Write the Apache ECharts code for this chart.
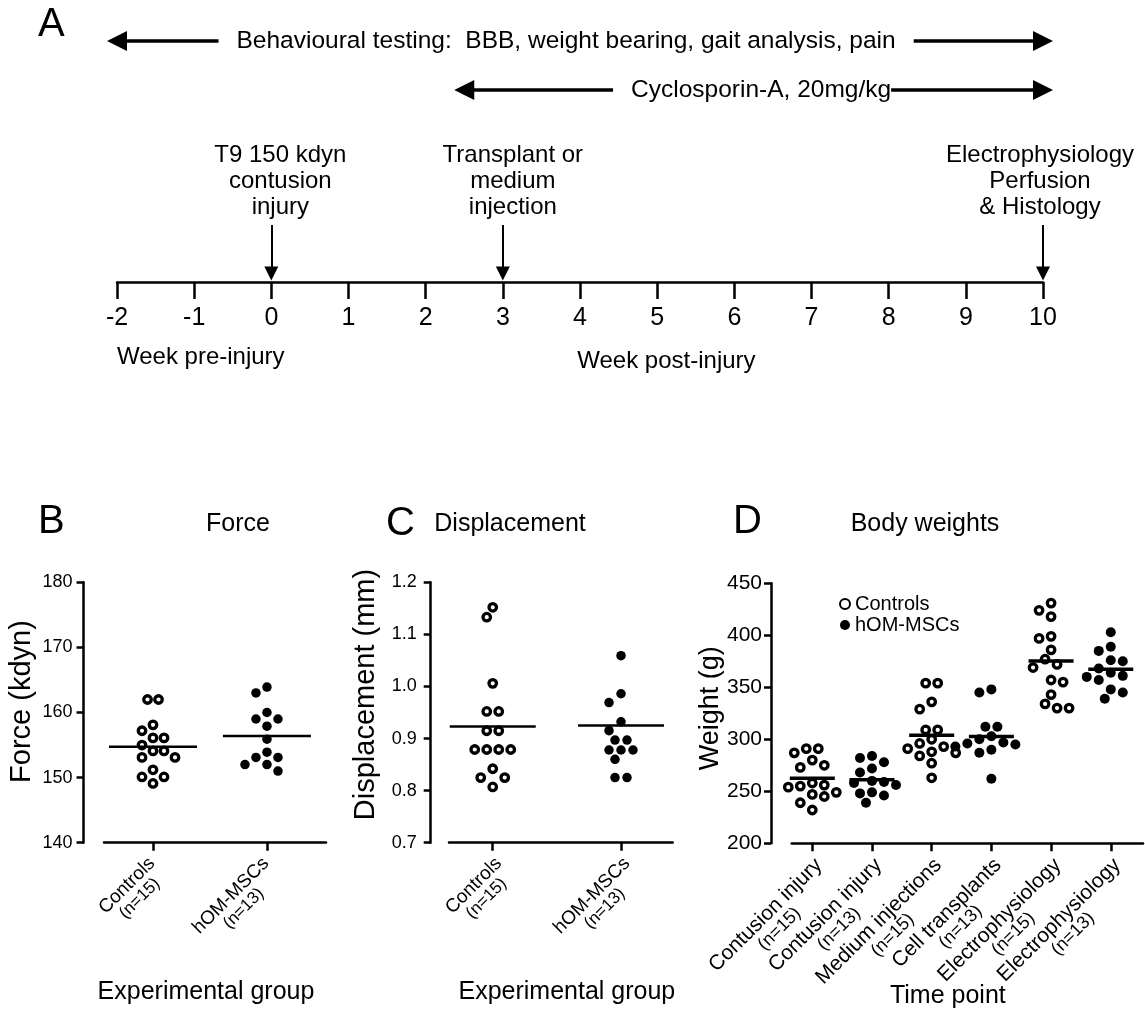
<!DOCTYPE html>
<html><head><meta charset="utf-8">
<script src="https://cdn.jsdelivr.net/npm/echarts@6/dist/echarts.min.js"></script>
<style>html,body{margin:0;padding:0;background:#fff}#c{width:1145px;height:1010px}</style>
</head><body><div id="c"></div>
<script>
// ================= DATA =================
// Panel A: timeline (weeks)
const weekTicks = [-2, -1, 0, 1, 2, 3, 4, 5, 6, 7, 8, 9, 10];
const eventWeeks = [0, 3, 10];
const eventLabels = ['T9 150 kdyn\ncontusion\ninjury', 'Transplant or\nmedium\ninjection', 'Electrophysiology\nPerfusion\n& Histology'];
const periodStart = [-2, 2.5];
const periodEnd = [10, 10];
const periodLabels = ['Behavioural testing:  BBB, weight bearing, gait analysis, pain', 'Cyclosporin-A, 20mg/kg'];
const phaseLabels = ['Week pre-injury', 'Week post-injury'];

// Panels B & C groups
const groupNames = ['Controls', 'hOM-MSCs'];
const groupN = [15, 13];

// Panel B: Force (kdyn)
const forceTicks = [140, 150, 160, 170, 180];
const forceControls = [162.0, 162.0, 158.1, 157.2, 156.1, 156.1, 155.0, 154.1, 154.1, 153.1, 153.1, 151.2, 150.1, 150.1, 149.1];
const forceHOM = [163.9, 163.0, 160.0, 159.0, 159.0, 157.9, 155.9, 153.9, 153.1, 153.1, 152.0, 152.0, 151.0];
const forceMeans = [154.75, 156.4];

// Panel C: Displacement (mm)
const dispTicks = [0.7, 0.8, 0.9, 1.0, 1.1, 1.2];
const dispControls = [1.152, 1.133, 1.006, 0.952, 0.952, 0.915, 0.915, 0.879, 0.879, 0.879, 0.879, 0.842, 0.825, 0.825, 0.807];
const dispHOM = [1.059, 0.986, 0.969, 0.932, 0.915, 0.897, 0.897, 0.878, 0.878, 0.878, 0.860, 0.825, 0.825];
const dispMeans = [0.923, 0.925];

// Panel D: Body weights (g)
const weightTicks = [200, 250, 300, 350, 400, 450];
const timePointNames = ['Contusion injury', 'Contusion injury', 'Medium injections', 'Cell transplants', 'Electrophysiology', 'Electrophysiology'];
const timePointN = [15, 13, 15, 13, 15, 13];
const weightContusionCtrl = [291, 291, 287, 280, 275, 273, 258, 256, 255, 254, 249, 247, 245, 239, 232];
const weightContusionHOM = [284, 282, 278, 272, 268, 260, 259, 258, 256, 249, 248, 246, 239];
const weightMediumCtrl = [354, 354, 336, 329, 309, 309, 300, 296, 293, 291, 288, 287, 284, 277, 263];
const weightCellHOM = [348, 345, 312, 312, 303, 300, 297, 296, 295, 293, 290, 287, 262];
const weightElectroCtrl = [431, 424, 418, 399, 397, 386, 377, 372, 369, 357, 355, 343, 334, 330, 330];
const weightElectroHOM = [403, 389, 385, 376, 375, 368, 364, 361, 360, 357, 348, 345, 339];
const weightMeans = [262.5, 261, 304, 302.6, 375.3, 367.3];

// ================= LAYOUT / STYLE =================
const FONT = "'Liberation Sans', Arial, Helvetica, sans-serif";
const BLACK = '#000';
// Panel A vertical levels (hidden y axis, 0 = timeline axis, 2.62 px per level)
const LV_PERIOD = [92.0, 73.3];
const PERIOD_LABEL_AT = [3.82, 6.23];
const PERIOD_PAD = [[2, 18, 2, 18], [2, 0, 2, 18]];
const LV_EVENT_TEXT = 38.5;
const EVENT_LABEL_SHIFT = [[9, 0], [10, 0], [-3, 0]];
const LV_ARROW_TOP = 21.8;
const LV_ARROW_END = 3.2;
const LV_PHASE = [-28.6, -30.2];
const PHASE_AT = [-2, 5.12];

const chart = echarts.init(document.getElementById('c'), null, { renderer: 'canvas' });

function txt(size) { return { fontSize: size, fontFamily: FONT, color: BLACK }; }

// labelShiftPx: horizontal shift of the rotated label anchor relative to its tick
function groupAxis(gridIndex, min, max, widthPx, names, ns, f1, f2, margin, labelShiftPx, name, nameGap, namePad) {
  const vals = names.map((_, i) => i + 1);
  const shift = labelShiftPx * (max - min) / widthPx;
  return {
    type: 'value', gridIndex, min, max,
    axisLine: { show: true, onZero: false, lineStyle: { color: BLACK, width: 2.5 } },
    axisTick: { show: true, customValues: vals, length: 8, lineStyle: { color: BLACK, width: 2.5 } },
    axisLabel: {
      show: true, customValues: vals.map(v => v + shift), rotate: 45, margin, hideOverlap: false,
      formatter: v => { const i = Math.round(v) - 1; return '{a|' + names[i] + '}\n{b|(n=' + ns[i] + ')}'; },
      rich: { a: Object.assign(txt(f1), { align: 'center' }), b: Object.assign(txt(f2), { align: 'center' }) }
    },
    splitLine: { show: false },
    name, nameLocation: 'middle', nameGap, nameMoveOverlap: false,
    nameTextStyle: Object.assign(txt(25), { padding: namePad })
  };
}
function valAxis(gridIndex, ticks, offset, fs, margin, name, nameGap, nameSize, namePad, fmt) {
  return {
    type: 'value', gridIndex, min: ticks[0], max: ticks[ticks.length - 1],
    interval: +(ticks[1] - ticks[0]).toFixed(6), offset,
    axisLine: { show: true, lineStyle: { color: BLACK, width: 2.5 } },
    axisTick: { show: true, length: 7, lineStyle: { color: BLACK, width: 2.5 } },
    axisLabel: Object.assign(txt(fs), { margin, formatter: fmt }),
    splitLine: { show: false },
    name, nameLocation: 'middle', nameGap, nameMoveOverlap: false,
    nameTextStyle: Object.assign(txt(nameSize), { padding: namePad })
  };
}

const hollow = { color: '#fff', borderColor: BLACK, borderWidth: 3.3, opacity: 1 };
const filled = { color: BLACK, borderWidth: 0, opacity: 1 };

const series = [];
// ---- Panel A ----
series.push({
  type: 'lines', coordinateSystem: 'cartesian2d', xAxisIndex: 0, yAxisIndex: 0, silent: true, clip: false,
  symbol: ['triangle', 'triangle'], symbolSize: 20, z: 2,
  lineStyle: { color: BLACK, width: 3.5, opacity: 1 },
  data: periodStart.map((s, i) => ({ coords: [[s, LV_PERIOD[i]], [periodEnd[i], LV_PERIOD[i]]] }))
});
series.push({
  type: 'lines', coordinateSystem: 'cartesian2d', xAxisIndex: 0, yAxisIndex: 0, silent: true, clip: false,
  symbol: ['none', 'triangle'], symbolSize: 14, z: 2,
  lineStyle: { color: BLACK, width: 2, opacity: 1 },
  data: eventWeeks.map(w => ({ coords: [[w, LV_ARROW_TOP], [w, LV_ARROW_END]] }))
});
const labelBase = { type: 'scatter', xAxisIndex: 0, yAxisIndex: 0, symbolSize: 1, silent: true, clip: false, z: 5, itemStyle: { color: 'rgba(0,0,0,0)', opacity: 1 } };
series.push(Object.assign({}, labelBase, {
  label: Object.assign(txt(24.5), { show: true, position: 'inside', backgroundColor: '#fff', opacity: 1 }),
  data: periodLabels.map((t, i) => ({ value: [PERIOD_LABEL_AT[i], LV_PERIOD[i]], label: { formatter: t, padding: PERIOD_PAD[i] } }))
}));
series.push(Object.assign({}, labelBase, {
  label: Object.assign(txt(24), { show: true, position: 'inside', lineHeight: 26, align: 'center', opacity: 1 }),
  data: eventWeeks.map((w, i) => ({ value: [w, LV_EVENT_TEXT], label: { formatter: eventLabels[i], offset: EVENT_LABEL_SHIFT[i] } }))
}));
series.push(Object.assign({}, labelBase, {
  label: Object.assign(txt(24), { show: true, position: 'inside', opacity: 1 }),
  data: phaseLabels.map((t, i) => ({ value: [PHASE_AT[i], LV_PHASE[i]], label: { formatter: t, align: i === 0 ? 'left' : 'center' } }))
}));

// ---- Scatter groups ----
const swarmGroups = [];
function addGroup(id, name, axisIdx, x, values, style, size, d) {
  series.push({
    type: 'scatter', id, name, xAxisIndex: axisIdx, yAxisIndex: axisIdx, symbol: 'circle',
    symbolSize: size, itemStyle: style, z: 3, silent: true,
    data: values.map(v => [x, v])
  });
  swarmGroups.push({ id, x, values, d });
}
addGroup('B1', 'Force Controls', 1, 1, forceControls, hollow, 7.5, 11);
addGroup('B2', 'Force hOM-MSCs', 1, 2, forceHOM, filled, 9.5, 11);
addGroup('C1', 'Disp Controls', 2, 1, dispControls, hollow, 7.5, 12);
addGroup('C2', 'Disp hOM-MSCs', 2, 2, dispHOM, filled, 9.5, 12);
const weightGroups = [weightContusionCtrl, weightContusionHOM, weightMediumCtrl, weightCellHOM, weightElectroCtrl, weightElectroHOM];
weightGroups.forEach((vals, i) => {
  const ctrl = i % 2 === 0;
  addGroup('D' + (i + 1), ctrl ? 'Controls' : 'hOM-MSCs', 3, i + 1, vals, ctrl ? hollow : filled, ctrl ? 7.5 : 10, 12);
});
// mean lines
function meanSeries(axisIdx, means, w, h) {
  series.push({
    type: 'scatter', xAxisIndex: axisIdx, yAxisIndex: axisIdx, symbol: 'rect', symbolSize: [w, h],
    itemStyle: { color: BLACK, opacity: 1 }, z: 4, silent: true,
    data: means.map((m, i) => [i + 1, m])
  });
}
meanSeries(1, forceMeans, 88, 2.5);
meanSeries(2, dispMeans, 86, 2.5);
meanSeries(3, weightMeans, 45, 3.5);

const option = {
  animation: false,
  backgroundColor: '#fff',
  textStyle: { fontFamily: FONT },
  grid: [
    { left: 117, top: 20, width: 926, height: 262, outerBoundsMode: 'none' },
    { left: 104, top: 582.3, width: 222, height: 260.4, outerBoundsMode: 'none' },
    { left: 449, top: 582.3, width: 223.7, height: 260.4, outerBoundsMode: 'none' },
    { left: 791.7, top: 583.3, width: 351.3, height: 260, outerBoundsMode: 'none' }
  ],
  xAxis: [
    {
      type: 'value', gridIndex: 0, min: weekTicks[0], max: weekTicks[weekTicks.length - 1], interval: weekTicks[1] - weekTicks[0],
      axisLine: { show: true, onZero: false, lineStyle: { color: BLACK, width: 2.5 } },
      axisTick: { show: true, length: 17, lineStyle: { color: BLACK, width: 2.5 } },
      axisLabel: Object.assign(txt(25), { margin: 24 }),
      splitLine: { show: false }
    },
    groupAxis(1, 0.57, 2.518, 222, groupNames, groupN, 19, 17, 24, 5, 'Experimental group', 137, [0, 18, 0, 0]),
    groupAxis(2, 0.659, 2.403, 223.7, groupNames, groupN, 19, 17, 24, 12, 'Experimental group', 137, [0, 0, 0, 12]),
    groupAxis(3, 0.655, 6.54, 351.3, timePointNames, timePointN, 21, 18, 25, 13, 'Time point', 140, [0, 39, 0, 0])
  ],
  yAxis: [
    { type: 'value', gridIndex: 0, min: 0, max: 100, show: false },
    valAxis(1, forceTicks, 20.5, 18, 11, 'Force (kdyn)', 47, 29, [0, 0, 0, 22], v => String(v)),
    valAxis(2, dispTicks, 18.3, 18, 14, 'Displacement (mm)', 50, 29, [0, 0, 0, 36], v => v.toFixed(1)),
    valAxis(3, weightTicks, 20.7, 21, 9, 'Weight (g)', 47, 27, [0, 0, 0, 10], v => String(v))
  ],
  legend: {
    orient: 'vertical', left: 834, top: 589, itemWidth: 10, itemHeight: 10, itemGap: 1,
    selectedMode: false, data: ['Controls', 'hOM-MSCs'],
    textStyle: Object.assign(txt(20), { lineHeight: 20 })
  },
  graphic: [
    { type: 'text', x: 38, y: 25, style: { text: 'A', fontSize: 40, fontFamily: FONT, fill: BLACK, align: 'left', verticalAlign: 'middle' } },
    { type: 'text', x: 38, y: 522, style: { text: 'B', fontSize: 40, fontFamily: FONT, fill: BLACK, align: 'left', verticalAlign: 'middle' } },
    { type: 'text', x: 386, y: 524, style: { text: 'C', fontSize: 40, fontFamily: FONT, fill: BLACK, align: 'left', verticalAlign: 'middle' } },
    { type: 'text', x: 733, y: 522, style: { text: 'D', fontSize: 40, fontFamily: FONT, fill: BLACK, align: 'left', verticalAlign: 'middle' } },
    { type: 'text', x: 238, y: 524, style: { text: 'Force', fontSize: 25, fontFamily: FONT, fill: BLACK, align: 'center', verticalAlign: 'middle' } },
    { type: 'text', x: 510, y: 524, style: { text: 'Displacement', fontSize: 25, fontFamily: FONT, fill: BLACK, align: 'center', verticalAlign: 'middle' } },
    { type: 'text', x: 925, y: 524, style: { text: 'Body weights', fontSize: 25, fontFamily: FONT, fill: BLACK, align: 'center', verticalAlign: 'middle' } }
  ],
  series
};
chart.setOption(option);

// ---- beeswarm offsets computed from the library's pixel scale ----
function swarm(ys, d) {
  const n = ys.length, thr = d * 0.9;
  const order = ys.map((y, i) => i).sort((a, b) => ys[a] - ys[b]);
  const placed = [], off = new Array(n).fill(0);
  const free = (x, y) => placed.every(p => Math.hypot(p.x - x, p.y - y) >= thr - 1e-6);
  const put = (i, x) => { off[i] = x; placed.push({ x, y: ys[i] }); };
  let k = 0;
  while (k < n) {
    let j = k;
    while (j + 1 < n && Math.abs(ys[order[j + 1]] - ys[order[k]]) < 1) j++;
    const grp = order.slice(k, j + 1), m = grp.length;
    let done = false;
    if (m > 1) {
      let best = null;
      for (let push = 0; push < 8; push++) {
        for (const sh of [0, -1, 1, -2, 2]) {
          const xs = grp.map((_, q) => { const b = (q - (m - 1) / 2) * d; return (Math.abs(b) < 1e-9 ? 0 : b + Math.sign(b) * push * d / 2) + sh * d / 2; });
          if (xs.every((x, q) => free(x, ys[grp[q]]))) {
            const cost = Math.max(...xs.map(Math.abs)) + 0.01 * xs.reduce((s, x) => s + Math.abs(x), 0);
            if (!best || cost < best.cost - 1e-9) best = { xs, cost };
          }
        }
      }
      if (best) { grp.forEach((gi, q) => put(gi, best.xs[q])); done = true; }
    }
    if (!done) {
      grp.forEach(gi => {
        const y = ys[gi];
        const bal = placed.filter(p => Math.abs(p.y - y) < d * 1.5).reduce((s, p) => s + p.x, 0);
        for (let s = 0; s < 40; s++) {
          const a = s * d / 2;
          const cands = s === 0 ? [0] : (bal > 0 ? [-a, a] : bal < 0 ? [a, -a] : [-a, a]);
          const f = cands.find(x => free(x, y));
          if (f !== undefined) { put(gi, f); break; }
        }
      });
    }
    k = j + 1;
  }
  return off;
}
const updates = swarmGroups.map(g => {
  const ys = g.values.map(v => chart.convertToPixel({ seriesId: g.id }, [g.x, v])[1]);
  const offs = swarm(ys, g.d);
  return { id: g.id, data: g.values.map((v, i) => ({ value: [g.x, v], symbolOffset: [offs[i], 0] })) };
});
chart.setOption({ series: updates });
</script></body></html>
